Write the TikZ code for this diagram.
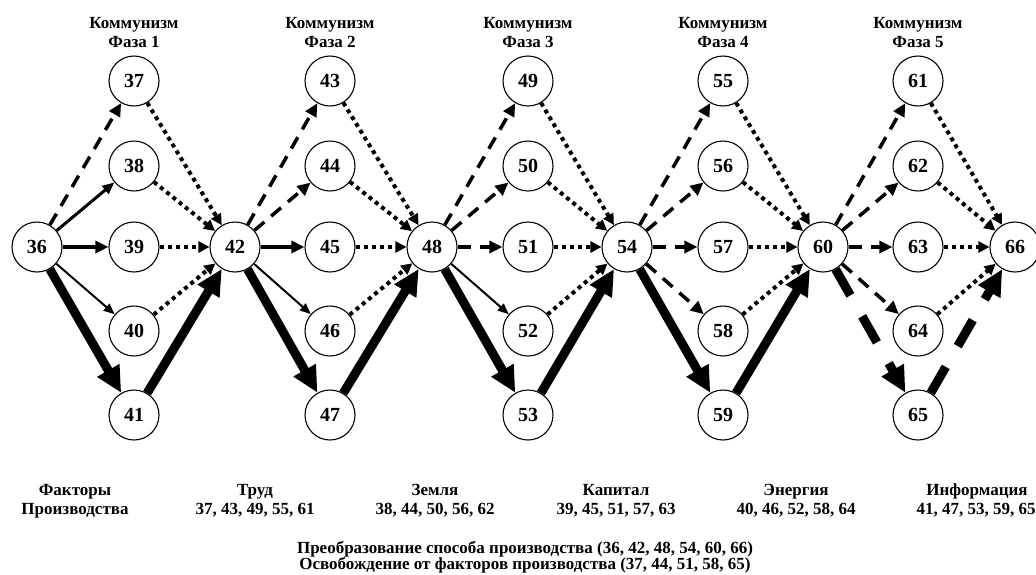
\documentclass[tikz,border=0pt]{standalone}
\usepackage{fontspec}
\setmainfont{Liberation Serif}
\usetikzlibrary{arrows.meta}
\begin{document}
\begin{tikzpicture}[x=1pt,y=-1pt,
  nd/.style={circle,draw,line width=1.1pt,minimum size=50pt,inner sep=0pt,font=\fontsize{20}{20}\selectfont\bfseries},
  lbl/.style={anchor=base,inner sep=0pt,font=\fontsize{17}{17}\selectfont\bfseries},
  dotE/.style={line width=4pt,dash pattern=on 4pt off 4pt,-{Triangle[length=11pt,width=11pt]}},
  dshE/.style={line width=3.5pt,dash pattern=on 13pt off 9pt,-{Triangle[length=13pt,width=12pt]}},
  thinE/.style={line width=2pt,-{Triangle[length=11pt,width=9pt]}},
  medE/.style={line width=3pt,-{Triangle[length=12pt,width=10pt]}},
  solE/.style={line width=4pt,-{Triangle[length=13pt,width=12pt]}},
  heavyE/.style={line width=9pt,-{Triangle[length=26pt,width=24pt]}},
  heavyD/.style={line width=9pt,dash pattern=on 30pt off 24pt,-{Triangle[length=26pt,width=24pt]}},
]
\useasboundingbox (0,0) rectangle (1036,574);
% hubs
\node[nd] (n36) at (37,247) {36};
\node[nd] (n42) at (235,247) {42};
\node[nd] (n48) at (432,247) {48};
\node[nd] (n54) at (627,247) {54};
\node[nd] (n60) at (823,247) {60};
\node[nd] (n66) at (1015,247) {66};
% phase nodes
\foreach \x/\a in {134/37,330/43,528/49,723/55,918/61}{
  \foreach \y [count=\i from 0] in {81,166,247,331,415}{
    \pgfmathtruncatemacro{\k}{\a+\i}
    \node[nd] (n\k) at (\x,\y) {\k};
  }
}
% phase 1
\draw[dshE] (n36) -- (n37);
\draw[medE] (n36) -- (n38);
\draw[solE] (n36) -- (n39);
\draw[thinE] (n36) -- (n40);
\draw[heavyE] (n36) -- (n41);
\foreach \k in {37,38,39,40} \draw[dotE] (n\k) -- (n42);
\draw[heavyE] (n41) -- (n42);
% phase 2
\draw[dshE] (n42) -- (n43);
\draw[dshE] (n42) -- (n44);
\draw[solE] (n42) -- (n45);
\draw[thinE] (n42) -- (n46);
\draw[heavyE] (n42) -- (n47);
\foreach \k in {43,44,45,46} \draw[dotE] (n\k) -- (n48);
\draw[heavyE] (n47) -- (n48);
% phase 3
\draw[dshE] (n48) -- (n49);
\draw[dshE] (n48) -- (n50);
\draw[dshE] (n48) -- (n51);
\draw[thinE] (n48) -- (n52);
\draw[heavyE] (n48) -- (n53);
\foreach \k in {49,50,51,52} \draw[dotE] (n\k) -- (n54);
\draw[heavyE] (n53) -- (n54);
% phase 4
\draw[dshE] (n54) -- (n55);
\draw[dshE] (n54) -- (n56);
\draw[dshE] (n54) -- (n57);
\draw[dshE] (n54) -- (n58);
\draw[heavyE] (n54) -- (n59);
\foreach \k in {55,56,57,58} \draw[dotE] (n\k) -- (n60);
\draw[heavyE] (n59) -- (n60);
% phase 5
\draw[dshE] (n60) -- (n61);
\draw[dshE] (n60) -- (n62);
\draw[dshE] (n60) -- (n63);
\draw[dshE] (n60) -- (n64);
\draw[heavyD] (n60) -- (n65);
\foreach \k in {61,62,63,64} \draw[dotE] (n\k) -- (n66);
\draw[heavyD] (n65) -- (n66);
% titles
\foreach \x [count=\i] in {134,330,528,723,918}{
  \node[lbl] (ta\i) at (\x,28) {Коммунизм};
  \node[lbl] (tb\i) at (\x,47) {Фаза \i};
}
% bottom labels
\node[lbl] (la1) at (75,495) {Факторы};
\node[lbl] (lb1) at (75,514) {Производства};
\node[lbl] (la2) at (255,495) {Труд};
\node[lbl] (lb2) at (255,514) {37, 43, 49, 55, 61};
\node[lbl] (la3) at (435,495) {Земля};
\node[lbl] (lb3) at (435,514) {38, 44, 50, 56, 62};
\node[lbl] (la4) at (616,495) {Капитал};
\node[lbl] (lb4) at (616,514) {39, 45, 51, 57, 63};
\node[lbl] (la5) at (796,495) {Энергия};
\node[lbl] (lb5) at (796,514) {40, 46, 52, 58, 64};
\node[lbl] (la6) at (977,495) {Информация};
\node[lbl] (lb6) at (976,514) {41, 47, 53, 59, 65};
\node[lbl] (fa) at (525,553) {Преобразование способа производства (36, 42, 48, 54, 60, 66)};
\node[lbl] (fb) at (525,569) {Освобождение от факторов производства (37, 44, 51, 58, 65)};
\end{tikzpicture}
\end{document}
